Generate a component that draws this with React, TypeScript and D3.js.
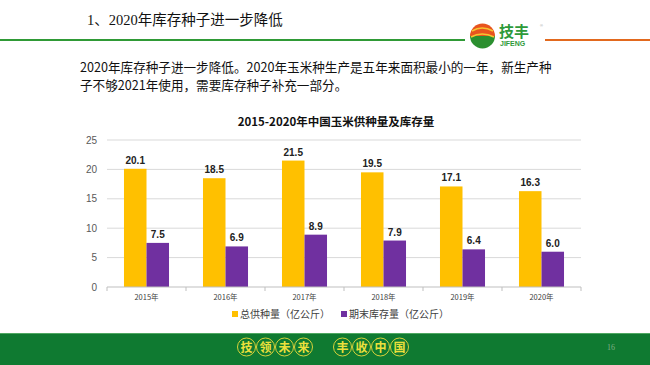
import * as d3 from "d3";

const years = ["2015年", "2016年", "2017年", "2018年", "2019年", "2020年"];
const seriesNames = ["总供种量（亿公斤）", "期末库存量（亿公斤）"];
const supply = [20.1, 18.5, 21.5, 19.5, 17.1, 16.3];
const stock = [7.5, 6.9, 8.9, 7.9, 6.4, 6.0];
const yTicks = [0, 5, 10, 15, 20, 25];
const footerLeft = ["技", "领", "未", "来"];
const footerRight = ["丰", "收", "中", "国"];

const colors = ["#FFC000", "#7030A0"];
const cjk = "'Noto Sans CJK SC', 'Noto Sans', sans-serif";
const serif = "'Liberation Serif', 'Noto Sans CJK SC', serif";

export default function App() {
  const W = 650;
  const H = 365;
  const plot = { left: 107, right: 581, top: 140, bottom: 287 };

  const y = d3.scaleLinear().domain([0, 25]).range([plot.bottom, plot.top]);
  const x0 = d3
    .scaleBand<string>()
    .domain(years)
    .range([plot.left, plot.right])
    .paddingInner(0.43)
    .paddingOuter(0.215);
  const x1 = d3
    .scaleBand<number>()
    .domain([0, 1])
    .range([0, x0.bandwidth()]);
  const step = x0.step();
  const values = [supply, stock];

  // footer circled characters
  const footerChars = [
    ...footerLeft.map((c, i) => ({ c, cx: 246.5 + i * 19 })),
    ...footerRight.map((c, i) => ({ c, cx: 342.5 + i * 19 })),
  ];

  return (
    <div style={{ position: "fixed", left: 0, top: 0, width: W, height: H, background: "#fff" }}>
      <svg width={W} height={H} style={{ display: "block" }}>
        {/* header */}
        <text x={87} y={25} fontFamily={serif} fontSize={14.5} fill="#111">
          1、2020年库存种子进一步降低
        </text>
        <line x1={0} x2={465} y1={40} y2={40} stroke="#2f9a36" strokeWidth={2} />
        <line x1={545} x2={650} y1={40} y2={40} stroke="#e2691e" strokeWidth={2} />
        {/* logo */}
        <g>
          <path d="M470,36 A12.5,12.5 0 0 1 495,36 Z" fill="#e8541e" />
          <path d="M470,36 A12.5,12.5 0 0 0 495,36 Z" fill="#2b8f2f" />
          <path d="M472,31 Q482,25 493,31" fill="none" stroke="#f7c531" strokeWidth={1.5} />
          <path d="M471,37 Q482,31 494,37" fill="none" stroke="#f7c531" strokeWidth={1.5} />
          <text x={499} y={37} fontFamily={cjk} fontWeight="bold" fontSize={15} fill="#2e9a3a">
            技丰
          </text>
          <text x={500} y={46} fontFamily="'Liberation Sans', sans-serif" fontWeight="bold" fontSize={7} fill="#2e9a3a">
            JIFENG
          </text>
          <text x={540} y={27} fontFamily="'Liberation Sans', sans-serif" fontSize={4} fill="#999">
            ®
          </text>
        </g>

        {/* body text */}
        <text x={80} y={72} fontFamily={cjk} fontSize={12.6} fill="#111">
          2020年库存种子进一步降低。2020年玉米种生产是五年来面积最小的一年，新生产种
        </text>
        <text x={80} y={90} fontFamily={cjk} fontSize={12.6} fill="#111">
          子不够2021年使用，需要库存种子补充一部分。
        </text>

        {/* chart title */}
        <text x={336} y={126} textAnchor="middle" fontFamily={cjk} fontWeight="bold" fontSize={11.5} fill="#111">
          2015-2020年中国玉米供种量及库存量
        </text>

        {/* gridlines and y axis */}
        {yTicks.map((t) => (
          <g key={t}>
            {t > 0 && (
              <line x1={plot.left} x2={plot.right} y1={y(t)} y2={y(t)} stroke="#d9d9d9" strokeWidth={1} />
            )}
            <text x={plot.left - 10} y={y(t) + 3.5} textAnchor="end" fontFamily="'Liberation Sans', sans-serif" fontSize={10} fill="#595959">
              {t}
            </text>
          </g>
        ))}

        {/* bars */}
        {years.map((yr, i) => (
          <g key={yr} transform={`translate(${x0(yr)},0)`}>
            {values.map((vals, s) => (
              <g key={s}>
                <rect
                  x={x1(s)}
                  y={y(vals[i])}
                  width={x1.bandwidth()}
                  height={plot.bottom - y(vals[i])}
                  fill={colors[s]}
                />
                <text
                  x={(x1(s) as number) + x1.bandwidth() / 2}
                  y={y(vals[i]) - 5}
                  textAnchor="middle"
                  fontFamily="'Liberation Sans', sans-serif"
                  fontWeight="bold"
                  fontSize={10}
                  fill="#222"
                >
                  {vals[i].toFixed(1)}
                </text>
              </g>
            ))}
          </g>
        ))}

        {/* x axis */}
        <line x1={plot.left} x2={plot.right} y1={plot.bottom} y2={plot.bottom} stroke="#bfbfbf" strokeWidth={1} />
        {d3.range(years.length + 1).map((i) => (
          <line
            key={i}
            x1={plot.left + i * step}
            x2={plot.left + i * step}
            y1={plot.bottom}
            y2={plot.bottom + 4}
            stroke="#bfbfbf"
          />
        ))}
        {years.map((yr) => (
          <text
            key={yr}
            x={(x0(yr) as number) + x0.bandwidth() / 2}
            y={300}
            textAnchor="middle"
            fontFamily={cjk}
            fontSize={7.5}
            fill="#404040"
          >
            {yr}
          </text>
        ))}

        {/* legend */}
        {seriesNames.map((n, s) => {
          const lx = s === 0 ? 232 : 341;
          return (
            <g key={n}>
              <rect x={lx} y={311} width={6} height={6} fill={colors[s]} />
              <text x={lx + 8} y={318} fontFamily={cjk} fontSize={10} fill="#404040">
                {n}
              </text>
            </g>
          );
        })}

        {/* footer */}
        <rect x={0} y={333} width={W} height={32} fill="#0f7a31" />
        <line x1={0} x2={W} y1={333.5} y2={333.5} stroke="#4fa862" strokeWidth={1} />
        {footerChars.map(({ c, cx }, i) => (
          <g key={i}>
            <circle cx={cx} cy={347} r={9} fill="none" stroke="#d8d23a" strokeWidth={1} />
            <text x={cx} y={351.5} textAnchor="middle" fontFamily={cjk} fontWeight="bold" fontSize={12} fill="#ece03c">
              {c}
            </text>
          </g>
        ))}
        <text x={611} y={350} textAnchor="middle" fontFamily={serif} fontSize={8} fill="#7fae86">
          16
        </text>
      </svg>
    </div>
  );
}
